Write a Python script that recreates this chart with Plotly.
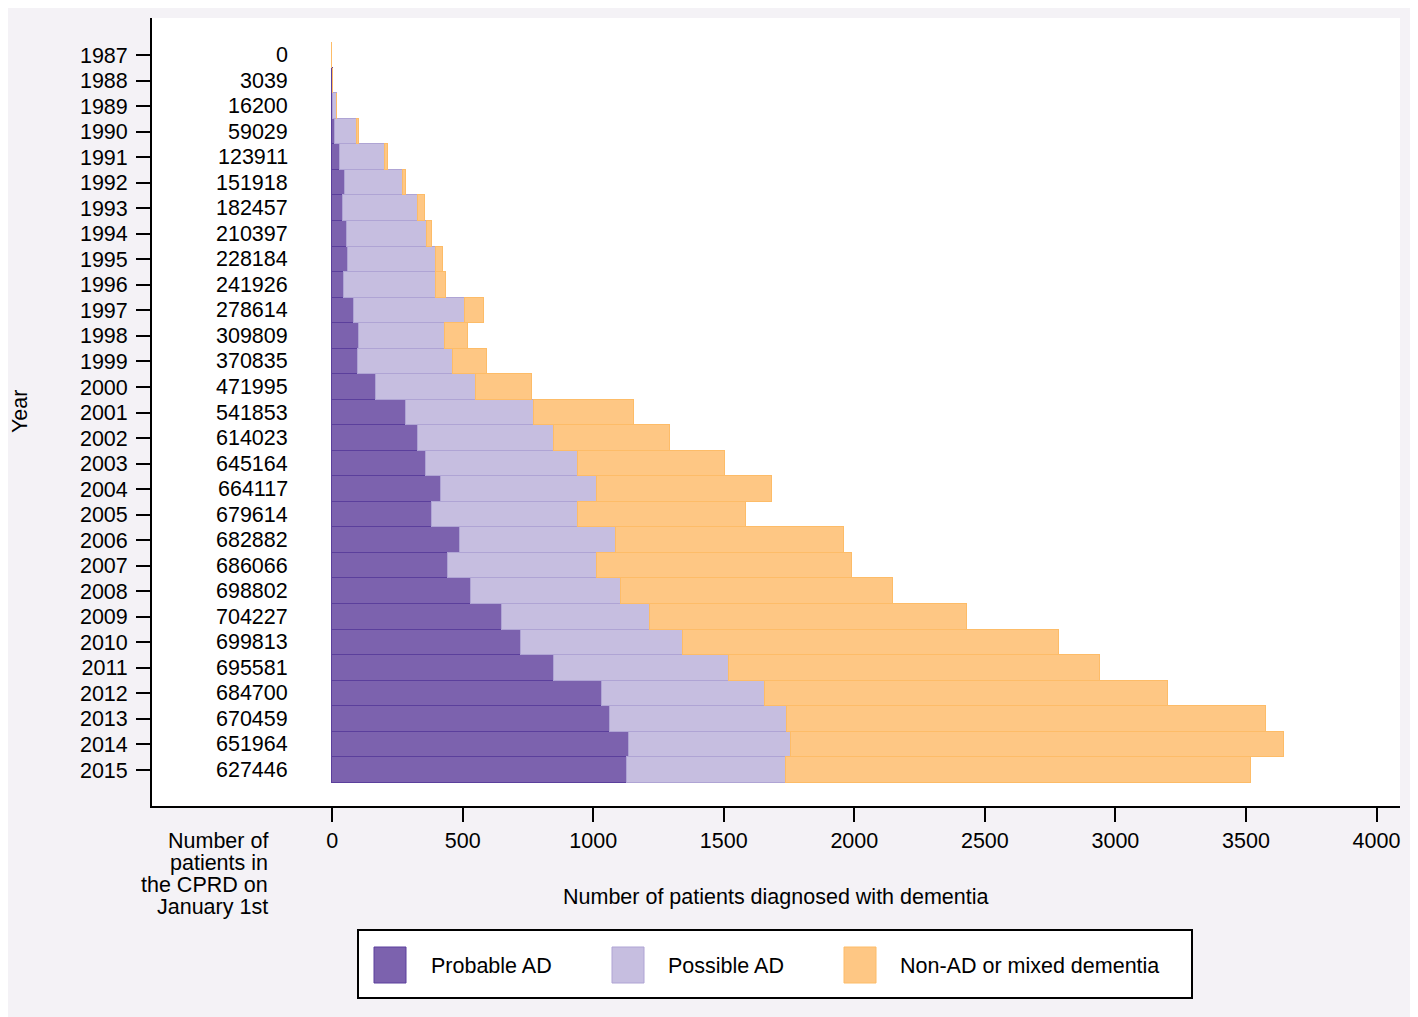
import plotly.graph_objects as go

# values
years = list(range(1987, 2016))
cprd_patients = [0, 3039, 16200, 59029, 123911, 151918, 182457, 210397, 228184,
                 241926, 278614, 309809, 370835, 471995, 541853, 614023, 645164,
                 664117, 679614, 682882, 686066, 698802, 704227, 699813, 695581,
                 684700, 670459, 651964, 627446]
probable_ad = [0, 2, 3, 11, 31, 50, 43, 56, 61, 46, 82, 103, 100, 167, 283, 328,
               359, 417, 382, 489, 442, 532, 650, 722, 850, 1034, 1064, 1137, 1128]
possible_ad = [0, 1, 15, 86, 171, 222, 285, 309, 337, 351, 426, 330, 364, 385,
               492, 522, 581, 596, 558, 598, 574, 574, 567, 621, 669, 623, 677,
               619, 610]
non_ad = [0, 2, 1, 5, 12, 10, 27, 17, 27, 39, 73, 88, 128, 215, 380, 443, 565,
          673, 645, 872, 975, 1044, 1214, 1442, 1421, 1546, 1835, 1890, 1783]
x_ticks = [0, 500, 1000, 1500, 2000, 2500, 3000, 3500, 4000]

series_names = ["Probable AD", "Possible AD", "Non-AD or mixed dementia"]
fills = ["#7c62ae", "#c6bee0", "#fec784"]
edges = ["#5b3f9c", "#afa4d4", "#fdbc68"]

FONT = "Liberation Sans, Arial, sans-serif"
FS = 21.5

# the page body adds an 8px margin, so the figure is drawn 8px smaller
# pixel -> paper helpers in reference image coords (plot area x 152..1400, y 18..806)
def px_x(p):
    return (p - 152) / 1248

def px_y(p):
    return (806 - p) / 788


fig = go.Figure()
for name, vals, fc, ec in zip(series_names, [probable_ad, possible_ad, non_ad], fills, edges):
    fig.add_trace(go.Bar(y=years, x=vals, orientation="h", name=name,
                         marker=dict(color=fc, line=dict(color=ec, width=1)),
                         width=1, showlegend=False))

# patient counts column left of zero
for yr, n in zip(years, cprd_patients):
    fig.add_annotation(x=-163, y=yr, xref="x", yref="y", text=str(n), showarrow=False,
                       xanchor="right", yanchor="middle")

fig.update_layout(
    width=1410, height=1009,
    margin=dict(l=144, r=18, t=10, b=211),
    paper_bgcolor="#f4f2f6", plot_bgcolor="white",
    barmode="stack", bargap=0,
    font=dict(family=FONT, size=FS, color="black"),
)
fig.update_xaxes(range=[-690, 4090], tickvals=x_ticks, ticks="outside", ticklen=14,
                 tickwidth=1.8, tickcolor="black", showline=True, linecolor="black",
                 linewidth=1.8, showgrid=False, zeroline=False,
                 tickfont=dict(family=FONT, size=FS, color="black"))
fig.update_yaxes(range=[2016.41, 1985.55], tickvals=years, ticks="outside", ticklen=14,
                 tickwidth=1.8, tickcolor="black", showline=True, linecolor="black",
                 linewidth=1.8, showgrid=False, zeroline=False, ticklabelstandoff=4,
                 tickfont=dict(family=FONT, size=FS, color="black"))

# axis titles
fig.add_annotation(text="Year", textangle=-90, xref="paper", yref="paper",
                   x=px_x(20), y=0.5, showarrow=False, xanchor="center", yanchor="middle")
fig.add_annotation(text="Number of patients diagnosed with dementia", xref="paper",
                   yref="paper", x=0.5, y=px_y(897), showarrow=False,
                   xanchor="center", yanchor="middle")
count_title = ["Number of", "patients in", "the CPRD on", "January 1st"]
for i, line in enumerate(count_title):
    fig.add_annotation(text=line, xref="paper", yref="paper", x=px_x(270),
                       y=px_y(841 + 22 * i), showarrow=False,
                       xanchor="right", yanchor="middle")

# hand-made legend box with large swatches
fig.add_shape(type="rect", xref="paper", yref="paper", x0=px_x(358), x1=px_x(1192),
              y0=px_y(930), y1=px_y(998), fillcolor="white",
              line=dict(color="black", width=2))
sw_left = [374, 612, 844]
txt_left = [429, 666, 898]
for name, fc, ec, sx, tx in zip(series_names, fills, edges, sw_left, txt_left):
    fig.add_shape(type="rect", xref="paper", yref="paper", x0=px_x(sx), x1=px_x(sx + 32),
                  y0=px_y(947), y1=px_y(983), fillcolor=fc, line=dict(color=ec, width=1))
    fig.add_annotation(text=name, xref="paper", yref="paper", x=px_x(tx), y=px_y(966),
                       showarrow=False, xanchor="left", yanchor="middle")

fig.write_html("out.html")
